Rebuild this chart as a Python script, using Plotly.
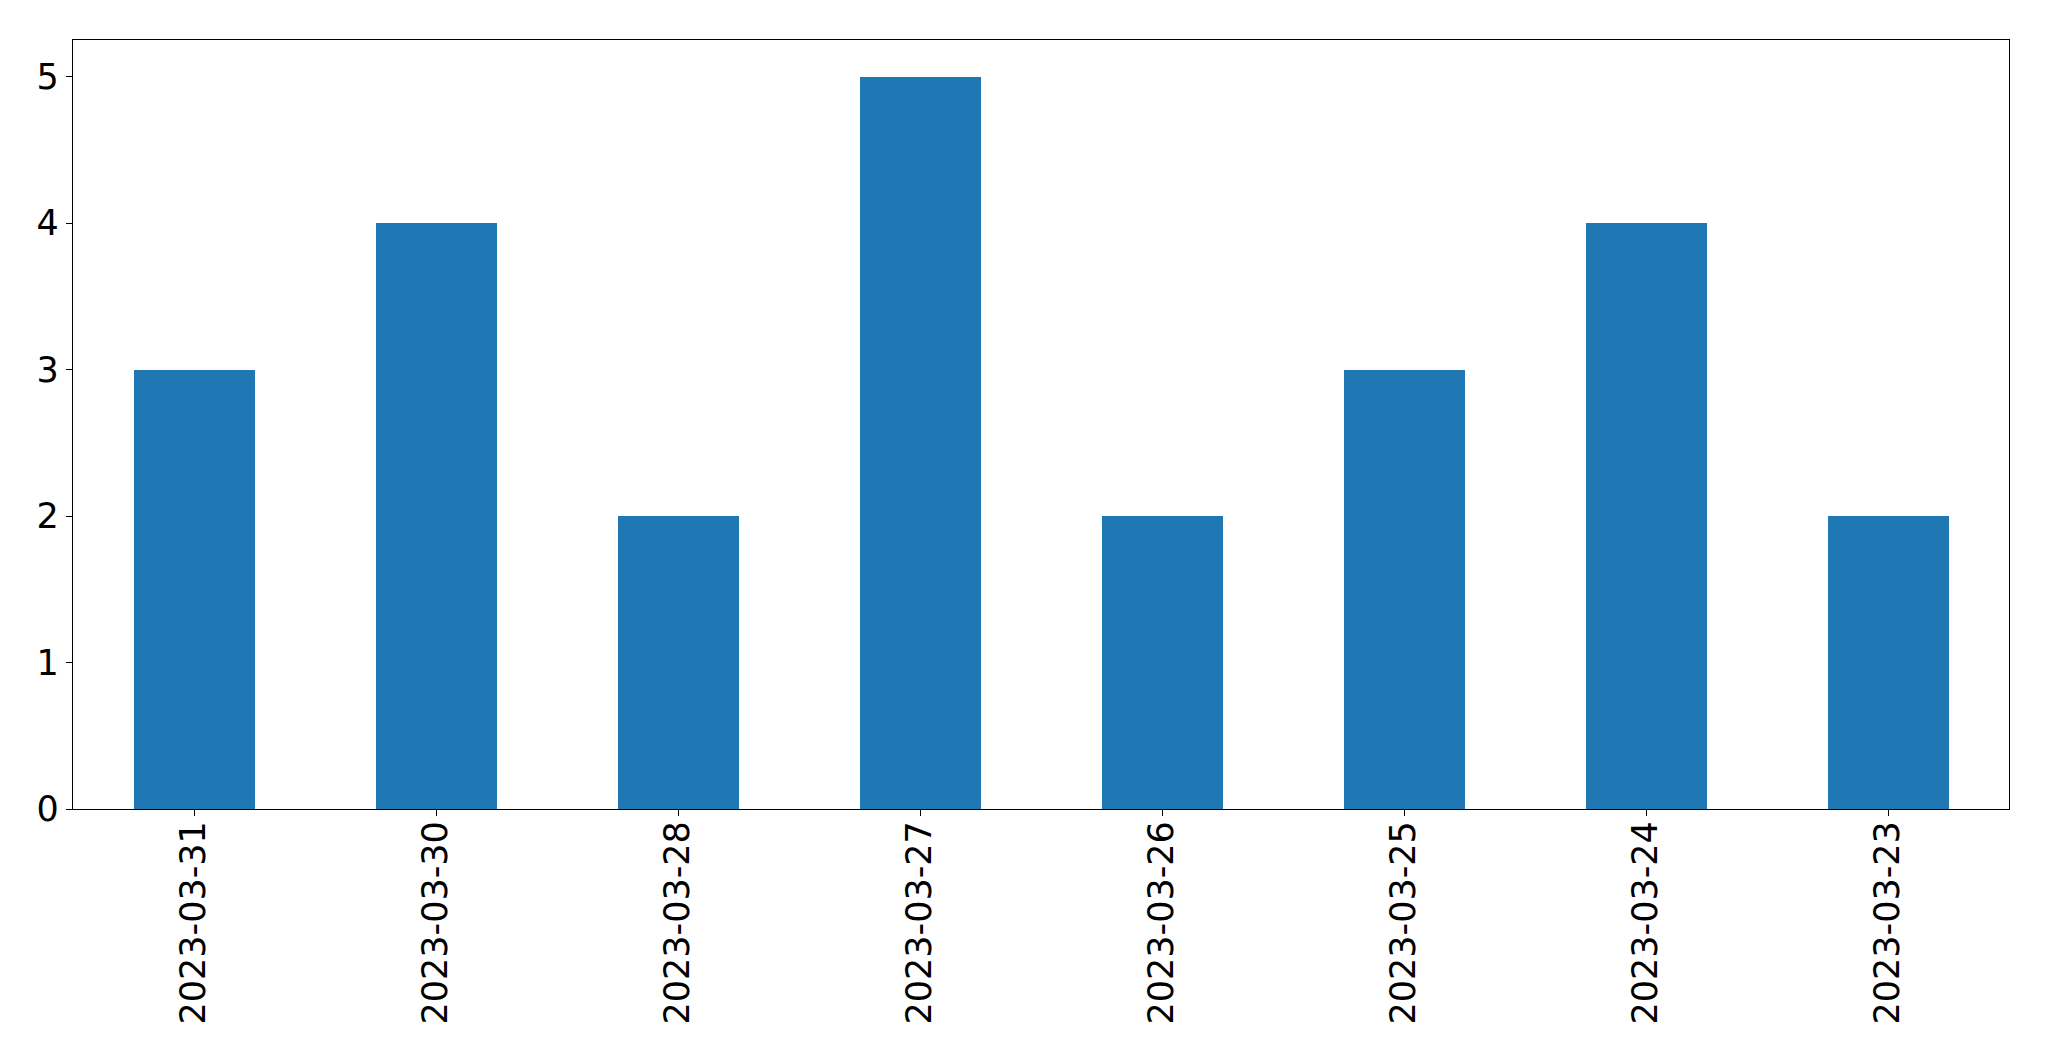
import plotly.graph_objects as go

dates = ["2023-03-31", "2023-03-30", "2023-03-28", "2023-03-27",
         "2023-03-26", "2023-03-25", "2023-03-24", "2023-03-23"]
counts = [3, 4, 2, 5, 2, 3, 4, 2]
y_ticks = [0, 1, 2, 3, 4, 5]

fig = go.Figure(go.Bar(x=dates, y=counts, marker_color="#1f77b4",
                       marker_line_width=0, width=0.5))

# page body has an 8px margin; the figure sits at (8, 8)
fig.update_layout(
    width=2033, height=1045,
    margin=dict(l=64.5, r=31.5, t=31.5, b=244, autoexpand=False),
    plot_bgcolor="white", paper_bgcolor="white",
    font=dict(family="DejaVu Sans", size=35, color="black"),
    showlegend=False,
    bargap=0,
)
fig.update_xaxes(
    type="category", range=[-0.5, 7.5], tickangle=-90,
    showline=True, mirror=True, linecolor="black", linewidth=1.3,
    ticks="outside", ticklen=6, tickwidth=1.3, tickcolor="black",
    showgrid=False, zeroline=False, ticklabelstandoff=-9,
)
fig.update_yaxes(
    range=[0, 5.25], tickvals=y_ticks,
    showline=True, mirror=True, linecolor="black", linewidth=1.3,
    ticks="outside", ticklen=6, tickwidth=1.3, tickcolor="black",
    showgrid=False, zeroline=False,
)

fig.write_html("out.html")
